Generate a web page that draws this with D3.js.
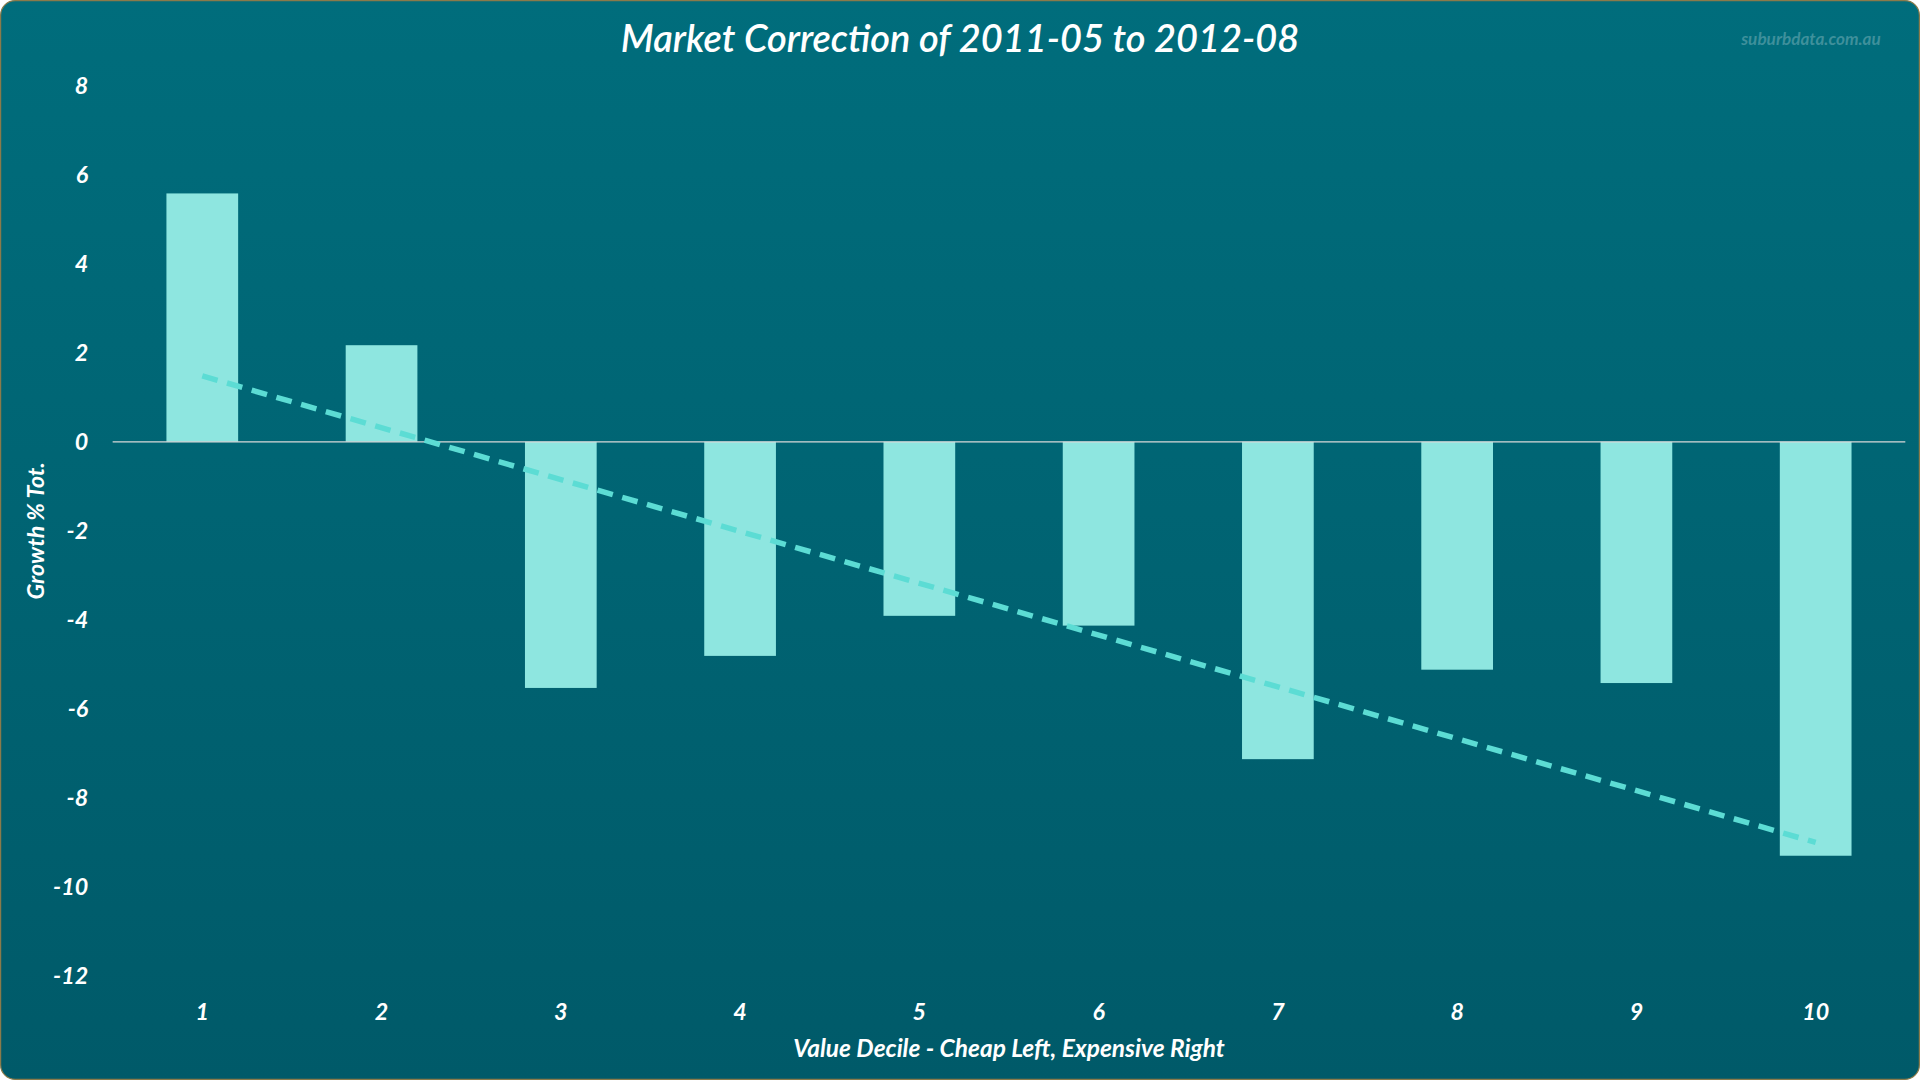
<!DOCTYPE html>
<html><head><meta charset="utf-8">
<script src="https://cdn.jsdelivr.net/npm/d3@7"></script>
<style>
html,body{margin:0;padding:0;background:#fff;overflow:hidden}
svg{display:block;font-family:Lato,"Open Sans",sans-serif;font-style:italic;font-weight:bold}
</style></head>
<body>
<svg id="chart" width="1920" height="1080" viewBox="0 0 1568 882"></svg>
<script>
// data
const deciles = [1, 2, 3, 4, 5, 6, 7, 8, 9, 10];
const growth = [5.58, 2.17, -5.53, -4.81, -3.91, -4.13, -7.13, -5.12, -5.42, -9.30];
const yTicks = [8, 6, 4, 2, 0, -2, -4, -6, -8, -10, -12];

const W = 1568, H = 882;
const svg = d3.select('#chart');

const defs = svg.append('defs');
const bg = defs.append('linearGradient').attr('id', 'bg').attr('x1', 0).attr('y1', 0).attr('x2', 0).attr('y2', 1);
bg.append('stop').attr('offset', '0%').attr('stop-color', '#006d7c');
bg.append('stop').attr('offset', '100%').attr('stop-color', '#005a69');

svg.append('rect').attr('x', 0.5).attr('y', 0.5).attr('width', W - 1).attr('height', H - 1)
    .attr('rx', 12).attr('fill', 'url(#bg)').attr('stroke', '#8a7a4a').attr('stroke-width', 1);

const x = d3.scaleBand().domain(deciles).range([92, 1556]).paddingInner(0.6).paddingOuter(0.3);
const y = d3.scaleLinear().domain([-12, 8]).range([797, 70]);

// y tick labels
svg.append('g').selectAll('text').data(yTicks).enter().append('text')
    .attr('x', 72).attr('y', d => y(d)).attr('dy', '0.35em')
    .attr('text-anchor', 'end').attr('fill', '#fff').attr('font-size', 19)
    .text(d => d);

// bars
svg.append('g').selectAll('rect').data(deciles).enter().append('rect')
    .attr('x', d => x(d)).attr('width', x.bandwidth())
    .attr('y', (d, i) => y(Math.max(0, growth[i])))
    .attr('height', (d, i) => Math.abs(y(growth[i]) - y(0)))
    .attr('fill', '#8ee6e0');

// zero line
svg.append('line').attr('x1', 92).attr('x2', 1556).attr('y1', y(0)).attr('y2', y(0))
    .attr('stroke', '#d9d9d9').attr('stroke-width', 1);

// linear trendline (least squares)
const mx = d3.mean(deciles), my = d3.mean(growth);
const slope = d3.sum(deciles, (d, i) => (d - mx) * (growth[i] - my)) / d3.sum(deciles, d => (d - mx) ** 2);
const fit = d => my + slope * (d - mx);
const ends = [deciles[0], deciles[deciles.length - 1]];
svg.append('path')
    .attr('d', d3.line().x(d => x(d) + x.bandwidth() / 2).y(d => y(fit(d)))(ends))
    .attr('fill', 'none').attr('stroke', '#5cdcd4').attr('stroke-width', 4.5)
    .attr('stroke-dasharray', '13,8');

// x tick labels
svg.append('g').selectAll('text').data(deciles).enter().append('text')
    .attr('x', d => x(d) + x.bandwidth() / 2).attr('y', 826).attr('dy', '0.35em')
    .attr('text-anchor', 'middle').attr('fill', '#fff').attr('font-size', 19)
    .text(d => d);

svg.append('text').attr('x', 824).attr('y', 856).attr('dy', '0.35em').attr('text-anchor', 'middle')
    .attr('fill', '#fff').attr('font-size', 20).text('Value Decile - Cheap Left, Expensive Right');

svg.append('text').attr('transform', 'translate(29,' + y(-2) + ') rotate(-90)').attr('dy', '0.35em')
    .attr('text-anchor', 'middle').attr('fill', '#fff').attr('font-size', 19).text('Growth % Tot.');

svg.append('text').attr('x', 784).attr('y', 32).attr('dy', '0.35em').attr('text-anchor', 'middle')
    .attr('fill', '#fff').attr('font-size', 31).attr('font-weight', 600).text('Market Correction of 2011-05 to 2012-08');

svg.append('text').attr('x', 1536).attr('y', 32).attr('dy', '0.35em').attr('text-anchor', 'end')
    .attr('fill', '#fff').attr('fill-opacity', 0.25).attr('font-size', 14).text('suburbdata.com.au');
</script>
</body></html>
